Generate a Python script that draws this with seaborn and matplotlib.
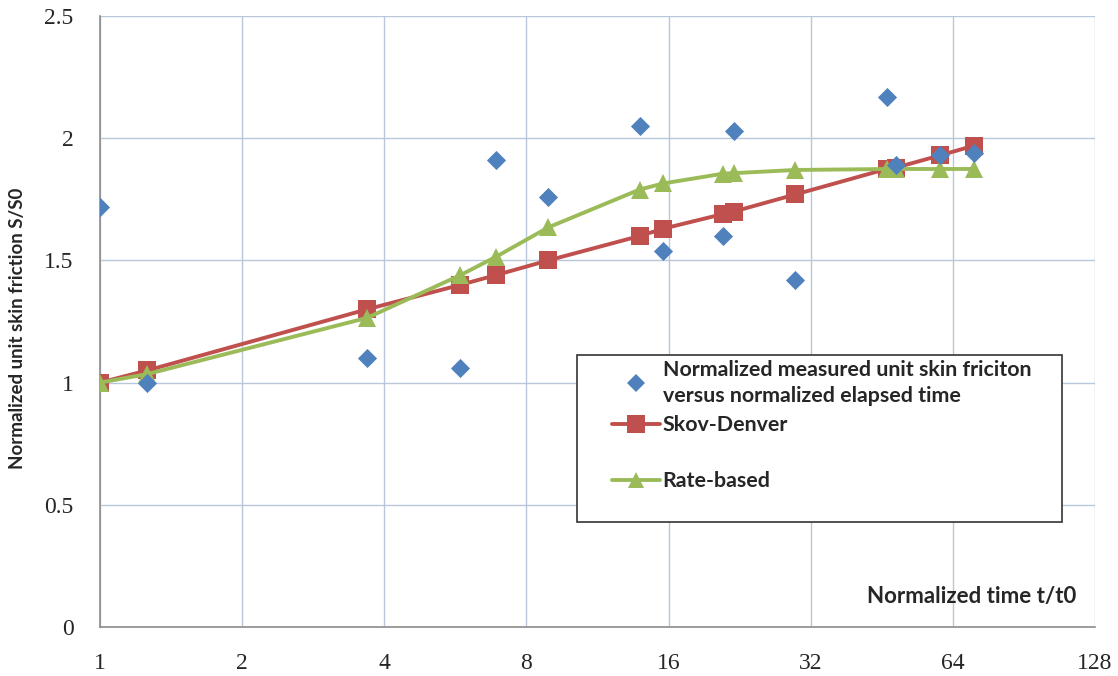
import matplotlib
matplotlib.use("Agg")
import matplotlib.pyplot as plt
from matplotlib.lines import Line2D
from matplotlib.patches import Rectangle
from matplotlib.ticker import FixedLocator, FixedFormatter, NullLocator
import seaborn as sns
import pandas as pd

# Measured points: normalized elapsed time vs normalized unit skin friction
measured_t = [1.0, 1.26, 3.68, 5.8, 6.9, 8.9, 13.9, 15.6, 20.9, 22.0, 29.7, 46.5, 48.6, 60.2, 71.1]
measured_s = [1.72, 1.0, 1.10, 1.06, 1.91, 1.76, 2.05, 1.54, 1.60, 2.03, 1.42, 2.17, 1.89, 1.93, 1.94]

# Model predictions at the same times
model_t = [1.0, 1.26, 3.68, 5.8, 6.9, 8.9, 13.9, 15.6, 20.9, 22.0, 29.7, 46.5, 48.6, 60.2, 71.1]
skov_denver = [1.0, 1.05, 1.30, 1.40, 1.44, 1.50, 1.60, 1.63, 1.69, 1.70, 1.77, 1.875, 1.88, 1.93, 1.97]
rate_based = [1.0, 1.035, 1.265, 1.44, 1.515, 1.635, 1.79, 1.815, 1.855, 1.857, 1.87, 1.874, 1.874, 1.874, 1.874]

x_ticks = [1, 2, 4, 8, 16, 32, 64, 128]
x_ticklabels = ["1", "2", "4", "8", "16", "32", "64", "128"]
y_ticks = [0, 0.5, 1, 1.5, 2, 2.5]
y_ticklabels = ["0", "0.5", "1", "1.5", "2", "2.5"]

BLUE = "#4F81BD"
RED = "#C0504D"
GREEN = "#9BBB59"
GRID = "#B8C7D9"

sns.set_theme(style="whitegrid")
plt.rcParams["font.family"] = ["Lato", "DejaVu Sans"]

W, H = 1118, 676
fig = plt.figure(figsize=(W / 100, H / 100), dpi=100)
ax = fig.add_axes([100 / W, 1 - 627 / H, 995 / W, 611 / H])


def px_to_axes(px, py):
    """Figure pixel position (from top-left) to axes fraction."""
    return (px - 100) / 995, (627 - py) / 611


meas = pd.DataFrame({"t": measured_t, "s": measured_s})
sd = pd.DataFrame({"t": model_t, "s": skov_denver})
rb = pd.DataFrame({"t": model_t, "s": rate_based})

sns.lineplot(data=sd, x="t", y="s", ax=ax, color=RED, lw=2.8, marker="s",
             markersize=12.5, markeredgewidth=0, zorder=3, estimator=None, sort=False)
sns.lineplot(data=rb, x="t", y="s", ax=ax, color=GREEN, lw=2.8, marker="^",
             markersize=12.5, markeredgewidth=0, zorder=4, estimator=None, sort=False)
sns.scatterplot(data=meas, x="t", y="s", ax=ax, color=BLUE, marker="D", s=95,
                linewidth=0, zorder=5)

ax.set_xscale("log", base=2)
ax.set_xlim(1, 128)
ax.set_ylim(0, 2.5)
ax.xaxis.set_major_locator(FixedLocator(x_ticks))
ax.xaxis.set_major_formatter(FixedFormatter(x_ticklabels))
ax.xaxis.set_minor_locator(NullLocator())
ax.set_yticks(y_ticks)
ax.set_yticklabels(y_ticklabels)

ax.grid(True, color=GRID, lw=1.0)
ax.set_axisbelow(True)
ax.tick_params(axis="x", length=0, pad=19, labelsize=17)
ax.tick_params(axis="y", length=0, pad=19, labelsize=17)
for lab in ax.get_xticklabels() + ax.get_yticklabels():
    lab.set_fontfamily(["Liberation Serif", "DejaVu Serif"])

for side in ("top", "right"):
    ax.spines[side].set_visible(False)
for side in ("left", "bottom"):
    ax.spines[side].set_color("#8C8C8C")
    ax.spines[side].set_linewidth(1.2)

ax.set_xlabel("")
ax.set_ylabel("")
fig.text(18 / W, 1 - 328 / H, "Normalized unit skin friction S/S0", rotation=90,
         ha="center", va="center", fontsize=13.5, fontweight="bold")
ax.text(*px_to_axes(1076, 596), "Normalized time t/t0", transform=ax.transAxes,
        ha="right", va="center", fontsize=16, fontweight="bold")

# Legend box
x0, y0 = px_to_axes(577, 522)
x1, y1 = px_to_axes(1062, 355)
ax.add_patch(Rectangle((x0, y0), x1 - x0, y1 - y0, transform=ax.transAxes,
                       facecolor="white", edgecolor="#333333", lw=1.2, zorder=6))

legend_font = {"weight": "bold", "size": 15.4}
handles_top = [
    Line2D([], [], color=BLUE, marker="D", markersize=9, lw=0, markeredgewidth=0),
    Line2D([], [], color=RED, marker="s", markersize=12.5, lw=2.8, markeredgewidth=0),
]
labels_top = [
    "Normalized measured unit skin friciton\nversus normalized elapsed time",
    "Skov-Denver",
]
leg1 = ax.legend(handles_top, labels_top, loc="upper left",
                 bbox_to_anchor=px_to_axes(612, 360), frameon=False,
                 prop=legend_font, labelspacing=0.45, handlelength=2.25,
                 handletextpad=0.12, borderpad=0, borderaxespad=0)
leg1.get_texts()[0].set_linespacing(1.35)
leg1.set_zorder(7)
ax.add_artist(leg1)

handles_bottom = [
    Line2D([], [], color=GREEN, marker="^", markersize=11.5, lw=2.8, markeredgewidth=0),
]
leg2 = ax.legend(handles_bottom, ["Rate-based"], loc="center left",
                 bbox_to_anchor=px_to_axes(612, 481), frameon=False,
                 prop=legend_font, handlelength=2.25, handletextpad=0.12,
                 borderpad=0, borderaxespad=0)
leg2.set_zorder(7)

fig.savefig("out.png", dpi=100)
